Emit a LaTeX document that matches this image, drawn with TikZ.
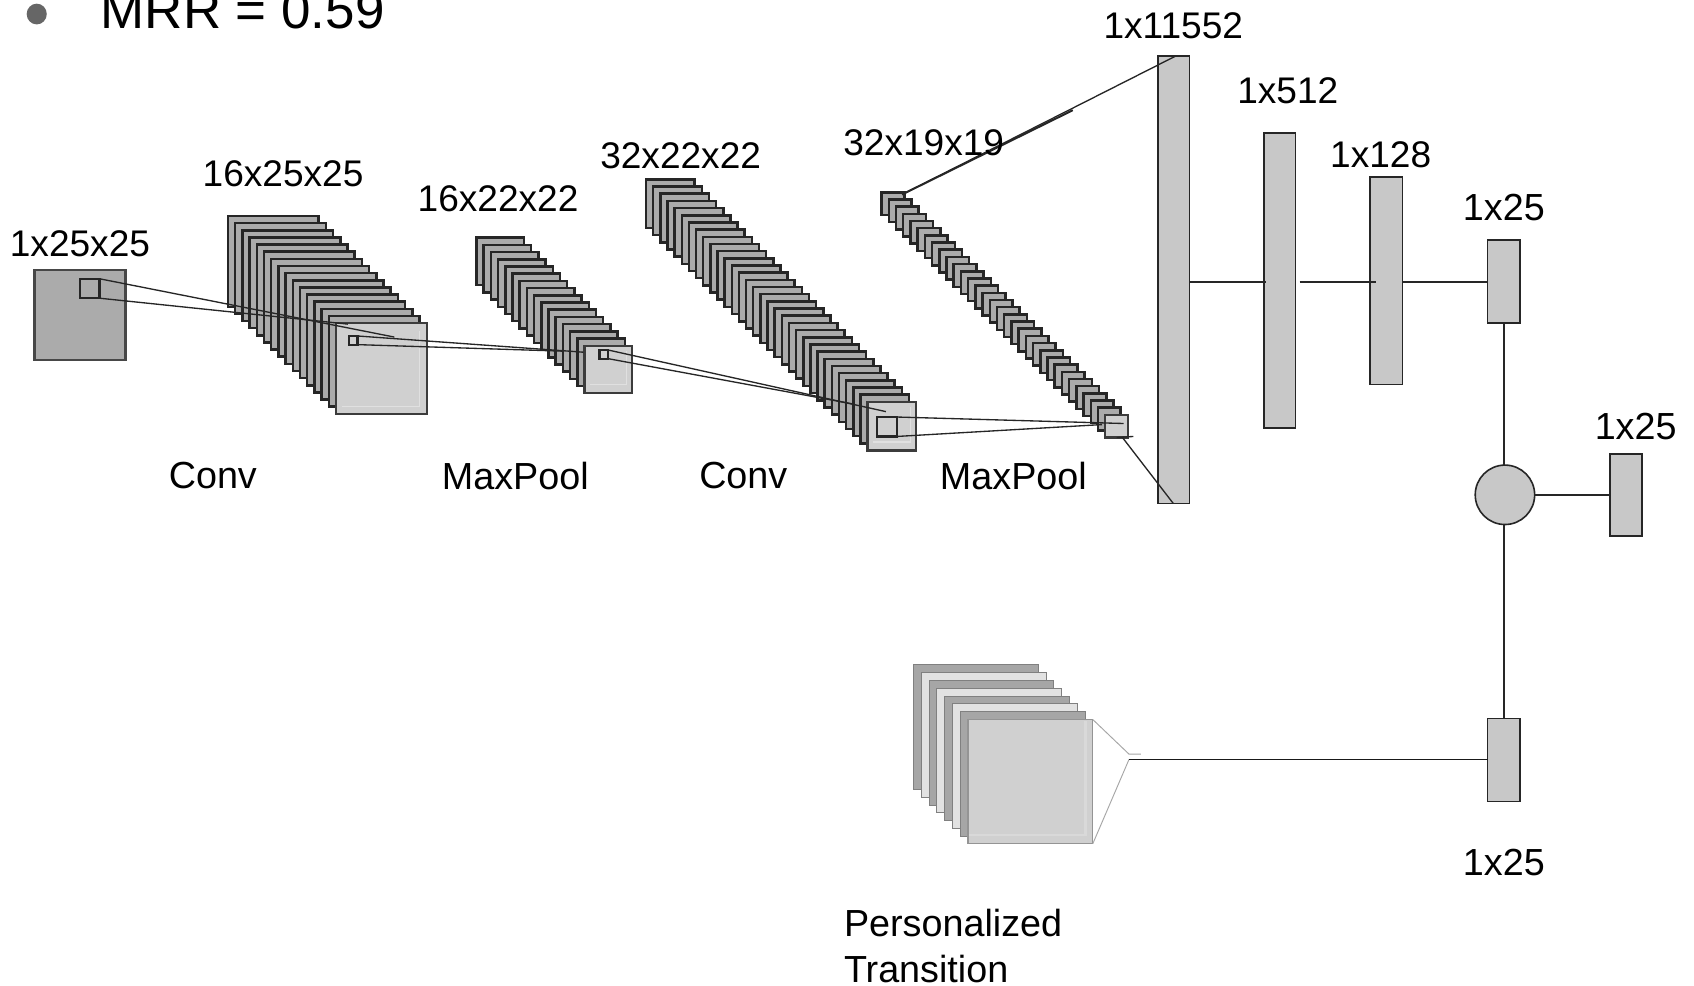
\documentclass[tikz,border=0pt]{standalone}
\usepackage{fontspec}
\setmainfont{Liberation Sans}
\definecolor{edgec}{HTML}{262626}
\definecolor{layerc}{HTML}{ABABAB}
\definecolor{frontc}{HTML}{D0D0D0}
\definecolor{barc}{HTML}{C8C8C8}
\definecolor{pdark}{HTML}{A6A6A6}
\definecolor{plight}{HTML}{E2E2E2}
\def\ux{0.8103pt}
\tikzset{
  lbl/.style={inner sep=0pt,font=\fontsize{27.8}{33}\selectfont,text=black},
  captext/.style={inner sep=0pt,font=\fontsize{28.3}{33}\selectfont,text=black},
  layer/.style={draw=edgec,fill=layerc,line width=1.9pt},
  frontlayer/.style={draw=edgec!90,fill=frontc,line width=1.8pt},
  innerline/.style={draw=white!88!black,line width=1pt},
  probe/.style={draw=edgec,fill=#1,line width=1.7pt,inner sep=0pt,outer sep=0pt},
  bar/.style={draw=edgec,fill=barc,line width=1.2pt,inner sep=0pt,outer sep=0pt},
  link/.style={draw=edgec,line width=1pt},
  wire/.style={draw=black!85,line width=1.1pt}
}
\newcommand{\stackdraw}[7]{% x0 y0 front-x front-y size n-1 name
  \foreach \i in {0,...,#6}{
    \pgfmathsetmacro{\sx}{#1+(#3-#1)*\i/#6}
    \pgfmathsetmacro{\sy}{#2+(#4-#2)*\i/#6}
    \ifnum\i=#6\relax
      \draw[frontlayer] (\sx,\sy) rectangle ++(#5,#5);
      \node[minimum width=#5*\ux,minimum height=#5*\ux,inner sep=0pt,outer sep=0pt,anchor=north west] (#7) at (\sx,\sy) {};
    \else
      \draw[layer] (\sx,\sy) rectangle ++(#5,#5);
    \fi
  }
}
\begin{document}
\begin{tikzpicture}[x=0.8103pt,y=-0.8103pt]
\useasboundingbox (0,0) rectangle (1568,912.6);
\fill[white] (0,0) rectangle (1568,912.6);

% header line
\fill[black!60] (34,13) ellipse (9.3 and 9.6);
\node[anchor=base west,inner sep=0pt,font=\fontsize{39.7}{48}\selectfont] (mrr) at (93,26) {MRR = 0.59};

% input
\node[draw=edgec!85,fill=layerc,line width=1.8pt,minimum width=84*\ux,minimum height=83*\ux,inner sep=0pt,outer sep=0pt,anchor=north west] (input) at (32,250) {};

% stacks
\stackdraw{211}{200}{311}{299}{84}{15}{convA}
\draw[innerline] (388,306) -- (388,376) -- (317,376);
\stackdraw{441}{220}{541}{320}{44}{15}{poolA}
\draw[innerline] (580,325) -- (580,356) -- (546,356);
\stackdraw{598}{166}{803}{372}{45}{31}{convB}
\draw[innerline] (843,377) -- (843,409) -- (808,409);
\stackdraw{816}{178}{1023}{384}{21}{31}{poolB}

% probes
\node[probe=layerc,minimum size=18*\ux,anchor=north west] (pa) at (74,258) {};
\node[probe=frontc,minimum size=8*\ux,anchor=north west]  (pb) at (323,311) {};
\node[probe=frontc,minimum size=8*\ux,anchor=north west]  (pc) at (555,324) {};
\node[probe=frontc,minimum size=18*\ux,anchor=north west] (pd) at (812,386) {};

% free ends
\coordinate (ea1) at (365,312);
\coordinate (ea2) at (322,300);
\coordinate (eb1) at (540,326);
\coordinate (eb2) at (520,325);
\coordinate (ec1) at (820,381);
\coordinate (ec2) at (790,374);
\coordinate (ed1) at (1040,392);
\coordinate (ed2) at (1020,393);
\coordinate (tick) at (1049,404);
\coordinate (pbtop) at (835,180);
\coordinate (pbbot) at (1039,405);

% connectors between stacks
\draw[link] (pa.north east) -- (ea1);
\draw[link] (pa.south east) -- (ea2);
\draw[link] (pb.north east) -- (eb1);
\draw[link] (pb.south east) -- (eb2);
\draw[link] (pc.north east) -- (ec1);
\draw[link] (pc.south east) -- (ec2);
\draw[link] (pd.north east) -- (ed1);
\draw[link] (pd.south east) -- (ed2);
\draw[link] (poolB.south) -- (tick);

% dense bars
\node[bar,minimum width=29*\ux,minimum height=414*\ux,anchor=north west] (d1) at (1072,52) {};
\node[bar,minimum width=29*\ux,minimum height=273*\ux,anchor=north west] (d2) at (1170,123) {};
\node[bar,minimum width=30*\ux,minimum height=192*\ux,anchor=north west] (d3) at (1268,164) {};
\node[bar,minimum width=30*\ux,minimum height=77*\ux,anchor=north west]  (d4) at (1377,222) {};
\node[bar,minimum width=30*\ux,minimum height=76*\ux,anchor=north west]  (d5) at (1490,420) {};
\node[bar,minimum width=30*\ux,minimum height=77*\ux,anchor=north west]  (d6) at (1377,665) {};
\node[circle,draw=edgec,fill=barc,line width=1.2pt,minimum size=55*\ux,inner sep=0pt,outer sep=0pt] (op) at (1393,458) {};
\coordinate (va) at (d4.south);
\coordinate (vb) at (d6.north);

% flatten fan
\coordinate (ftop) at (1088,52);
\coordinate (fbot) at (1086,466);
\coordinate (thick) at (993,102);
\draw[link] (pbtop) -- (ftop);
\draw[draw=edgec,line width=1.5pt] (pbtop) -- (thick);
\draw[link] (pbbot) -- (fbot);

% dense connectors
\coordinate (hl) at (1300,261);
\coordinate (g1a) at (1172,261);
\coordinate (g1b) at (1203,261);
\coordinate (g2a) at (1274,261);
\draw[wire] (hl -| d1.east) -- (g1a);
\draw[wire] (g1b) -- (g2a);
\draw[wire] (hl -| d3.east) -- (hl -| d4.west);
\draw[wire] (d4.south) -- (d4.south |- op.north);
\draw[wire] (op.east) -- (op.east -| d5.west);
\draw[wire] (d6.north |- op.south) -- (d6.north);

% personalized stack
\foreach \i/\c in {0/pdark,1/plight,2/pdark,3/plight,4/pdark,5/plight,6/pdark}{
  \fill[\c,draw=black!50,line width=0.7pt] ({845.5+7.25*\i},{615+7.3*\i}) rectangle ++(115.5,115.5);
}
\node[fill=frontc,draw=black!42,line width=0.8pt,minimum width=115.5*\ux,minimum height=115*\ux,inner sep=0pt,outer sep=0pt,anchor=north west] (pers) at (896,666) {};
\draw[white!85!black,line width=2pt] (1005,667) -- (1005,773) -- (897,773);
\coordinate (pj) at (1045,703);
\coordinate (pk) at (1045,698);
\coordinate (pl) at (1056,698);
\draw[draw=black!35,line width=0.7pt] (pers.north east) -- (pk) -- (pl);
\draw[draw=black!35,line width=0.7pt] (pers.south east) -- (pj);
\draw[draw=black!90,line width=1.3pt] (pj) -- (pj -| d6.west);

% labels
\node[lbl] (t1) at (74,226) {1x25x25};
\node[lbl] (t2) at (262,161) {16x25x25};
\node[lbl] (t3) at (461,184) {16x22x22};
\node[lbl] (t4) at (630,144) {32x22x22};
\node[lbl] (t5) at (855,132.5) {32x19x19};
\node[lbl] (t6) at (1086,23.5) {1x11552};
\node[lbl] (t7) at (1192,84) {1x512};
\node[lbl] (t8) at (1278,143.5) {1x128};
\node[captext] (t9) at (1392,192) {1x25};
\node[captext] (t10) at (1514,394.5) {1x25};
\node[captext] (t11) at (1392,798) {1x25};
\node[captext] (c1) at (197,440.5) {Conv};
\node[captext] (c2) at (477,440.5) {MaxPool};
\node[captext] (c3) at (688,440.5) {Conv};
\node[captext] (c4) at (938,440.5) {MaxPool};
\node[captext,anchor=base west] (p1) at (781,867) {Personalized};
\node[captext,anchor=base west] (p2) at (781,909) {Transition};
\end{tikzpicture}
\end{document}
